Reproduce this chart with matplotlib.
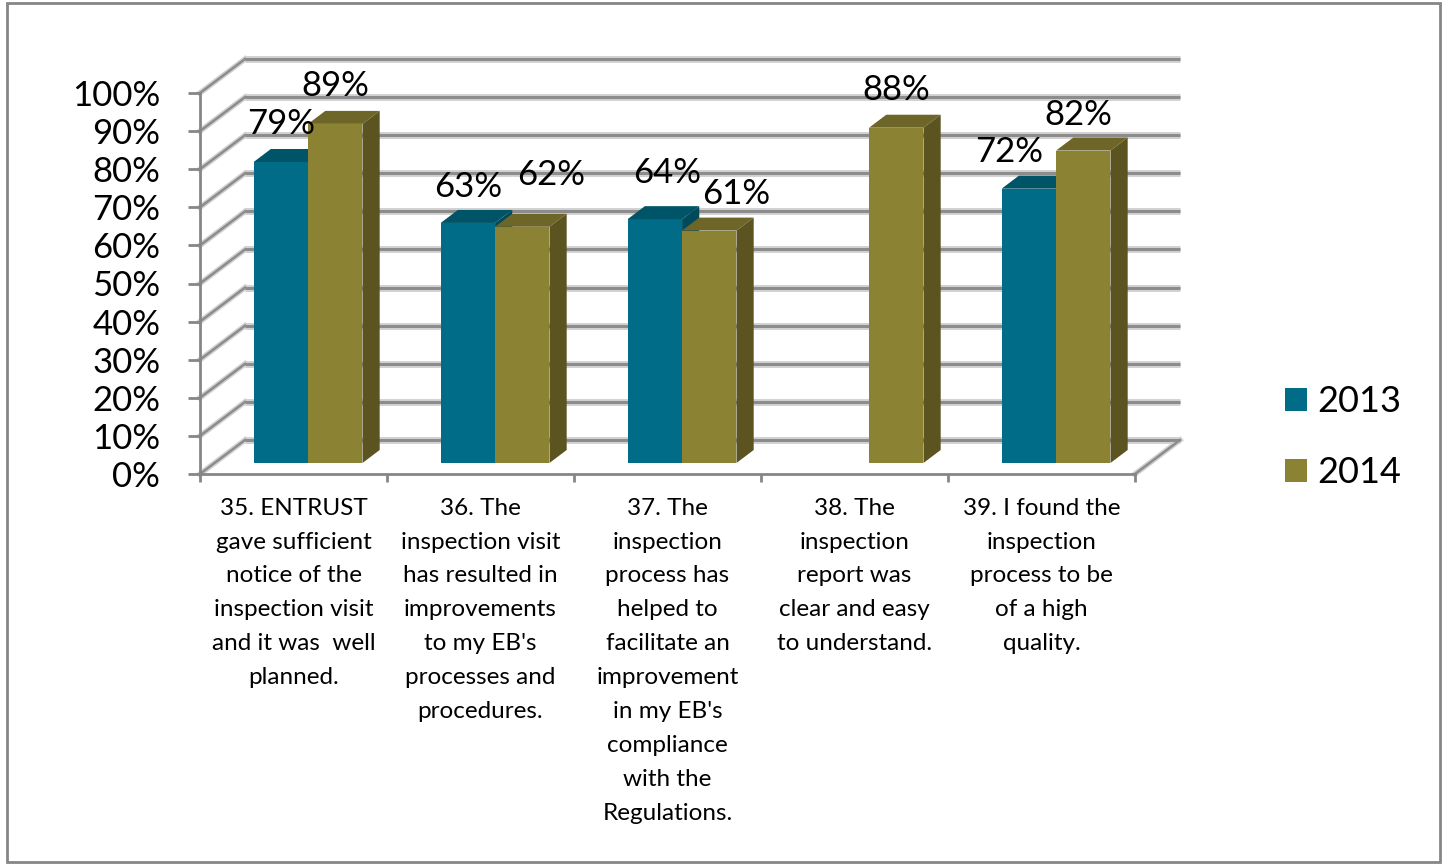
"""Survey results 2013 vs 2014, drawn as an Excel-style 3D clustered column chart."""

import matplotlib.pyplot as plt
from matplotlib.patches import Patch, Polygon, Rectangle
from matplotlib.ticker import PercentFormatter

plt.rcParams["font.family"] = ["Lato", "DejaVu Sans"]

CATEGORIES = [
    "35. ENTRUST\ngave sufficient\nnotice of the\ninspection visit\nand it was  well\nplanned.",
    "36. The\ninspection visit\nhas resulted in\nimprovements\nto my EB's\nprocesses and\nprocedures.",
    "37. The\ninspection\nprocess has\nhelped to\nfacilitate an\nimprovement\nin my EB's\ncompliance\nwith the\nRegulations.",
    "38. The\ninspection\nreport was\nclear and easy\nto understand.",
    "39. I found the\ninspection\nprocess to be\nof a high\nquality.",
]
SERIES = ["2013", "2014"]
VALUES_2013 = [0.79, 0.63, 0.64, None, 0.72]
VALUES_2014 = [0.89, 0.62, 0.61, 0.88, 0.82]
Y_TICKS = [i / 10 for i in range(11)]

# face colours: front, top, side
COLORS = {
    "2013": ("#006C88", "#005468", "#004A5C"),
    "2014": ("#8C8234", "#6E6628", "#5C5420"),
}
GRID_DARK = "#8C8C8C"
GRID_LIGHT = "#D2D2D2"
AXIS_GRAY = "#868686"

# oblique depth of the plot box, in data units (x: categories, y: fraction)
DX = 45 / 187
DY = 34 / 381
# bars sit between these depth fractions
D_FRONT = 0.324
D_BACK = 0.706
BAR_W = 0.291

# data label offsets in pixels (dx, dy above the front top edge)
LABEL_BASE = 28
LABEL_NUDGE = {
    ("2014", 1): (29, 42),
    ("2013", 2): (12, 36),
    ("2014", 2): (27, 27),
    ("2013", 4): (-20, 27),
    ("2013", 1): (0, 26),
    ("2014", 4): (-5, 26),
}

W_PX, H_PX = 1447, 865
fig = plt.figure(figsize=(W_PX / 100, H_PX / 100), dpi=100, facecolor="white")
fig.add_artist(Rectangle((7 / W_PX, 3 / H_PX), 1433 / W_PX, 859 / H_PX,
                         transform=fig.transFigure, facecolor="none",
                         edgecolor=AXIS_GRAY, linewidth=2))

left, right, top, bottom = 200, 1135, 93, 474
ax = fig.add_axes([left / W_PX, 1 - bottom / H_PX,
                   (right - left) / W_PX, (bottom - top) / H_PX])
ax.set_xlim(0, len(CATEGORIES))
ax.set_ylim(0, 1)
ax.patch.set_visible(False)
for side in ("top", "right"):
    ax.spines[side].set_visible(False)
for side in ("left", "bottom"):
    ax.spines[side].set_color(AXIS_GRAY)
    ax.spines[side].set_linewidth(2)

# back wall gridlines and left side wall diagonals
n_cat = len(CATEGORIES)
for t in Y_TICKS:
    ax.plot([DX, n_cat + DX], [t + DY, t + DY], color=GRID_LIGHT, lw=5,
            solid_capstyle="butt", clip_on=False, zorder=1)
    ax.plot([DX, n_cat + DX], [t + DY, t + DY], color=GRID_DARK, lw=2.2,
            solid_capstyle="butt", clip_on=False, zorder=1.1)
    ax.plot([0, DX], [t, t + DY], color=GRID_LIGHT, lw=4, clip_on=False, zorder=1)
    ax.plot([0, DX], [t, t + DY], color=GRID_DARK, lw=1.8, clip_on=False, zorder=1.1)
ax.plot([n_cat, n_cat + DX], [0, DY], color=GRID_LIGHT, lw=4, clip_on=False, zorder=1)
ax.plot([n_cat, n_cat + DX], [0, DY], color=GRID_DARK, lw=1.8, clip_on=False, zorder=1.1)

# columns, painted left to right so nearer faces cover farther ones
depth_x = (D_BACK - D_FRONT) * DX
depth_y = (D_BACK - D_FRONT) * DY
base = D_FRONT * DY
for s, (name, values) in enumerate(zip(SERIES, [VALUES_2013, VALUES_2014])):
    front, top_c, side_c = COLORS[name]
    xs = [i + 0.5 - BAR_W + D_FRONT * DX + s * BAR_W for i in range(n_cat)]
    heights = [v if v is not None else 0 for v in values]
    bars = ax.bar(xs, heights, width=BAR_W, bottom=base, align="edge",
                  color=front, linewidth=0, zorder=5)
    for i, (rect, v) in enumerate(zip(bars, values)):
        z = 5 + 2 * i + s
        rect.set_zorder(z)
        if v is None:
            rect.set_visible(False)
            continue
        x0, x1 = xs[i], xs[i] + BAR_W
        y1 = base + v
        ax.add_patch(Polygon([(x0, y1), (x1, y1), (x1 + depth_x, y1 + depth_y),
                              (x0 + depth_x, y1 + depth_y)],
                             facecolor=top_c, linewidth=0, zorder=z, clip_on=False))
        ax.add_patch(Polygon([(x1, base), (x1 + depth_x, base + depth_y),
                              (x1 + depth_x, y1 + depth_y), (x1, y1)],
                             facecolor=side_c, linewidth=0, zorder=z, clip_on=False))
        dx, dy = LABEL_NUDGE.get((name, i), (0, LABEL_BASE))
        ax.annotate(f"{v:.0%}", xy=(x0 + BAR_W / 2, y1), xytext=(dx, dy),
                    textcoords="offset pixels", ha="center", va="baseline",
                    fontsize=25, color="black", zorder=30, annotation_clip=False)

# axes ticks and labels
ax.set_yticks(Y_TICKS)
ax.yaxis.set_major_formatter(PercentFormatter(1.0, decimals=0))
ax.tick_params(axis="y", length=8.6, width=2, color=AXIS_GRAY, pad=20,
               labelsize=25)
ax.set_xticks(range(n_cat + 1))
ax.set_xticklabels([])
ax.tick_params(axis="x", which="major", length=6, width=2, color=AXIS_GRAY)
ax.set_xticks([i + 0.5 for i in range(n_cat)], CATEGORIES, minor=True)
ax.tick_params(axis="x", which="minor", length=0, pad=17, labelsize=17.5)
for label in ax.get_xticklabels(minor=True):
    label.set_linespacing(1.76)

handles = [Patch(facecolor=COLORS[name][0], label=name) for name in SERIES]
fig.legend(handles=handles, loc="center left",
           bbox_to_anchor=(1252 / W_PX, 1 - 437 / H_PX), frameon=False,
           fontsize=26, handlelength=0.62, handleheight=0.62,
           handletextpad=0.3, labelspacing=1.05)

fig.savefig("out.png", dpi=100, facecolor="white")
